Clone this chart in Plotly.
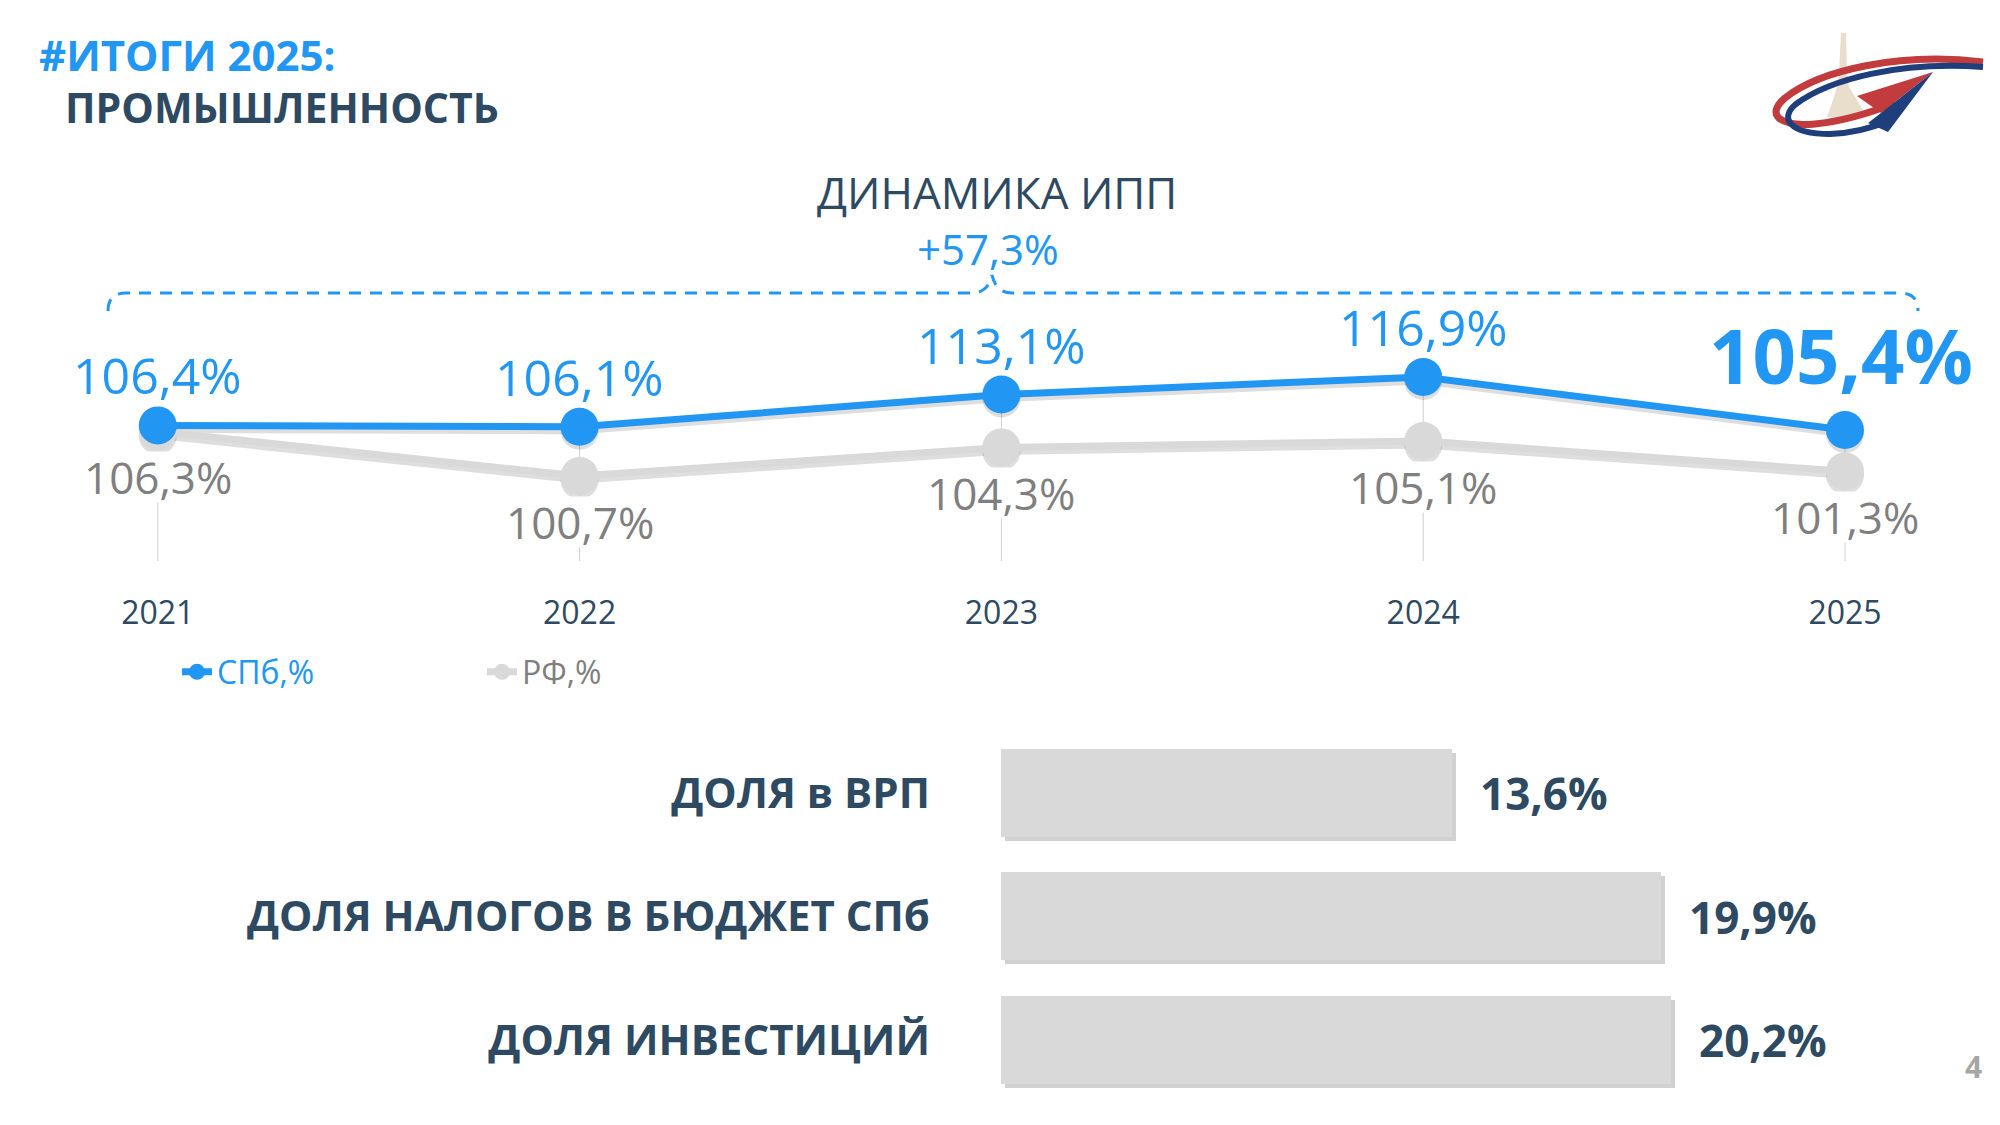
import plotly.graph_objects as go

W, H = 2000, 1125

# ---------------- data ----------------
years = ["2021", "2022", "2023", "2024", "2025"]
spb = [106.4, 106.1, 113.1, 116.9, 105.4]
rf = [106.3, 100.7, 104.3, 105.1, 101.3]
growth_label = "+57,3%"

bar_cats = ["ДОЛЯ в ВРП", "ДОЛЯ НАЛОГОВ В БЮДЖЕТ СПб", "ДОЛЯ ИНВЕСТИЦИЙ"]
bar_vals = [13.6, 19.9, 20.2]

title_1 = "#ИТОГИ 2025:"
title_2 = "ПРОМЫШЛЕННОСТЬ"
chart_title = "ДИНАМИКА ИПП"
page_no = "4"

# ---------------- style ----------------
FONT = "Open Sans"
BLUE = "#2196F3"
DARK = "#2E4A62"
GREY_LINE = "#D9D9D9"
GREY_TEXT = "#7F7F7F"
SHADOW = "rgba(0,0,0,0.13)"


def pct(v):
    return f"{v:.1f}".replace(".", ",") + "%"


def px_x(x):
    return x / W


def px_y(y):
    return 1 - y / H


def dom_y(top, bottom, shift=0):
    return [1 - (bottom + shift) / H, 1 - (top + shift) / H]


LINE_TOP, LINE_BOT = 250, 557
SPB_RANGE = [77.85, 144.45]
RF_RANGE = [90.51, 129.13]
X_RANGE = [-0.3741, 4.3675]
SH = 4  # shadow offset px

BAR_TOP, BAR_BOT = 731.25, 1101.75
BAR_LEFT = 1001
BAR_PX_PER_UNIT = 33.15

fig = go.Figure()

# shadows (drawn first, on the lower subplots)
fig.add_trace(go.Scatter(x=years, y=rf, xaxis="x", yaxis="y", mode="lines+markers",
                         line=dict(color=SHADOW, width=7), marker=dict(size=38, color=SHADOW),
                         showlegend=False, hoverinfo="skip"))
drop_x, drop_y = [], []
for yr, v in zip(years, spb):
    drop_x += [yr, yr, None]
    drop_y += [v, SPB_RANGE[0], None]
fig.add_trace(go.Scatter(x=drop_x, y=drop_y, xaxis="x", yaxis="y2", mode="lines",
                         line=dict(color="#D0D0D0", width=1), showlegend=False, hoverinfo="skip"))
fig.add_trace(go.Scatter(x=years, y=spb, xaxis="x", yaxis="y2", mode="lines+markers",
                         line=dict(color=SHADOW, width=7), marker=dict(size=38, color=SHADOW),
                         showlegend=False, hoverinfo="skip"))

# main series
fig.add_trace(go.Scatter(x=years, y=spb, xaxis="x", yaxis="y4", mode="lines+markers",
                         name=f"<span style='color:{BLUE}'>СПб,%</span>", legendrank=1,
                         line=dict(color=BLUE, width=7), marker=dict(size=38, color=BLUE)))
fig.add_trace(go.Scatter(x=years, y=rf, xaxis="x", yaxis="y3", mode="lines+markers",
                         name=f"<span style='color:{GREY_TEXT}'>РФ,%</span>", legendrank=2,
                         line=dict(color=GREY_LINE, width=7), marker=dict(size=38, color=GREY_LINE)))

# bars
fig.add_trace(go.Bar(x=bar_vals, y=bar_cats, orientation="h", xaxis="x2", yaxis="y5",
                     marker=dict(color="rgba(0,0,0,0.18)", line=dict(width=0)), width=0.7125,
                     showlegend=False, hoverinfo="skip"))
fig.add_trace(go.Bar(x=bar_vals, y=bar_cats, orientation="h", xaxis="x3", yaxis="y6",
                     marker=dict(color="#D9D9D9", line=dict(width=0)), width=0.7125,
                     showlegend=False))

hidden = dict(visible=False, showgrid=False, zeroline=False, fixedrange=True)

fig.update_layout(
    width=W, height=H, autosize=False,
    margin=dict(l=0, r=0, t=0, b=0, autoexpand=False),
    paper_bgcolor="white", plot_bgcolor="rgba(0,0,0,0)",
    font=dict(family=FONT, color=DARK),
    xaxis=dict(domain=[0, 1], type="category", range=X_RANGE, anchor="y3",
               showgrid=False, zeroline=False, showline=False, ticks="",
               tickfont=dict(size=32, color=DARK, family=FONT), ticklabelstandoff=34),
    yaxis=dict(domain=dom_y(LINE_TOP, LINE_BOT, SH), range=RF_RANGE, anchor="x", **hidden),
    yaxis2=dict(overlaying="y", range=SPB_RANGE, anchor="x", **hidden),
    yaxis3=dict(domain=dom_y(LINE_TOP, LINE_BOT), range=RF_RANGE, anchor="x", **hidden),
    yaxis4=dict(overlaying="y3", range=SPB_RANGE, anchor="x", **hidden),
    xaxis2=dict(domain=[px_x(BAR_LEFT + SH), 1], range=[0, (W - BAR_LEFT - SH) / BAR_PX_PER_UNIT],
                anchor="y5", **hidden),
    yaxis5=dict(domain=dom_y(BAR_TOP, BAR_BOT, SH), type="category", range=[2.5, -0.5],
                anchor="x2", **hidden),
    xaxis3=dict(domain=[px_x(BAR_LEFT), 1], range=[0, (W - BAR_LEFT) / BAR_PX_PER_UNIT],
                anchor="y6", **hidden),
    yaxis6=dict(domain=dom_y(BAR_TOP, BAR_BOT), type="category", range=[2.5, -0.5], anchor="x3",
                showgrid=False, zeroline=False, showline=False, ticks="",
                tickfont=dict(size=42, color=DARK, family=FONT, weight="bold"),
                ticklabelstandoff=70),
    bargap=0,
    legend=dict(orientation="h", x=px_x(177), y=px_y(672), xanchor="left", yanchor="middle",
                font=dict(size=32, family=FONT), bgcolor="rgba(0,0,0,0)",
                entrywidth=260, entrywidthmode="pixels"),
    showlegend=True,
)

ann = []
# SPb labels (x given as category index)
for i, v in enumerate(spb):
    last = i == len(spb) - 1
    ann.append(dict(x=i, y=v, xref="x", yref="y4", text=pct(v), showarrow=False,
                    yanchor="middle", yshift=76 if last else 50, xshift=-4 if last else 0,
                    font=dict(size=76 if last else 50, color=BLUE, family=FONT,
                              weight="bold" if last else "normal")))
# RF labels (white box hides the drop line behind the text)
for i, v in enumerate(rf):
    ann.append(dict(x=i, y=v, xref="x", yref="y3", text=pct(v), showarrow=False,
                    yanchor="middle", yshift=-46, bgcolor="white", height=50, borderpad=0,
                    font=dict(size=44, color=GREY_TEXT, family=FONT)))
# bar values
for i, v in enumerate(bar_vals):
    ann.append(dict(x=v, y=i, xref="x3", yref="y6", text=pct(v), showarrow=False,
                    xanchor="left", xshift=26,
                    font=dict(size=44, color=DARK, family=FONT, weight="bold")))
# titles
ann += [
    dict(x=px_x(37), y=px_y(54), xref="paper", yref="paper", text=title_1, showarrow=False,
         xanchor="left", yanchor="middle", font=dict(size=42, color=BLUE, family=FONT, weight="bold")),
    dict(x=px_x(63), y=px_y(107), xref="paper", yref="paper", text=title_2, showarrow=False,
         xanchor="left", yanchor="middle", font=dict(size=41, color=DARK, family=FONT, weight="bold")),
    dict(x=px_x(997), y=px_y(192), xref="paper", yref="paper", text=chart_title, showarrow=False,
         xanchor="center", yanchor="middle", font=dict(size=44, color=DARK, family=FONT)),
    dict(x=px_x(988), y=px_y(248), xref="paper", yref="paper", text=growth_label, showarrow=False,
         xanchor="center", yanchor="middle", font=dict(size=42, color=BLUE, family=FONT)),
    dict(x=px_x(1973), y=px_y(1066), xref="paper", yref="paper", text=page_no, showarrow=False,
         xanchor="center", yanchor="middle", font=dict(size=30, color="#A6A6A6", family=FONT, weight="bold")),
]
fig.update_layout(annotations=ann)


def pt(p):
    return f"{px_x(p[0]):.5f},{px_y(p[1]):.5f}"


def poly(pts):
    return "M " + pt(pts[0]) + " " + " ".join("L " + pt(p) for p in pts[1:]) + " Z"


def path(cmds):
    return " ".join(cmd + " " + " ".join(pt(p) for p in pts) for cmd, pts in cmds)


shapes = []
# dashed brace
brace = path([
    ("M", [(108, 311)]), ("Q", [(108, 293), (126, 293)]), ("L", [(972, 293)]),
    ("Q", [(988, 293), (992, 275)]), ("Q", [(996, 293), (1012, 293)]), ("L", [(1900, 293)]),
    ("Q", [(1918, 293), (1918, 311)]),
])
shapes.append(dict(type="path", xref="paper", yref="paper", path=brace,
                   line=dict(color=BLUE, width=3, dash="12px,9px")))

# logo
RED_L = "#C23B3D"
BLUE_L = "#1E3F7C"
spire = [(1841, 33), (1846, 33), (1847, 73), (1849, 87), (1857, 100), (1867, 117),
         (1827, 117), (1833, 100), (1837, 87), (1839, 73)]
shapes.append(dict(type="path", xref="paper", yref="paper", path=poly(spire),
                   fillcolor="#E9DDCB", line=dict(width=0)))
red_band = path([("M", [(1983, 62)]), ("C", [(1900, 52), (1820, 70), (1785, 98)]),
                 ("C", [(1765, 115), (1780, 127), (1815, 124)]),
                 ("C", [(1845, 121), (1870, 113), (1895, 103)])])
shapes.append(dict(type="path", xref="paper", yref="paper", path=red_band,
                   line=dict(color=RED_L, width=7)))
blue_band = path([("M", [(1983, 67)]), ("C", [(1900, 61), (1830, 79), (1796, 104)]),
                  ("C", [(1779, 118), (1789, 134), (1830, 134)]),
                  ("C", [(1855, 133), (1872, 128), (1888, 121)])])
shapes.append(dict(type="path", xref="paper", yref="paper", path=blue_band,
                   line=dict(color=BLUE_L, width=6)))
red_tri = [(1933, 72), (1857, 96), (1881, 113)]
shapes.append(dict(type="path", xref="paper", yref="paper", path=poly(red_tri),
                   fillcolor=RED_L, line=dict(width=0)))
blue_tri = [(1933, 72), (1881, 113), (1868, 123), (1888, 132)]
shapes.append(dict(type="path", xref="paper", yref="paper", path=poly(blue_tri),
                   fillcolor=BLUE_L, line=dict(width=0)))

fig.update_layout(shapes=shapes)

fig.write_html("out.html", config={"displayModeBar": False},
               post_script="document.body.style.margin='0';document.body.style.overflow='hidden';")
